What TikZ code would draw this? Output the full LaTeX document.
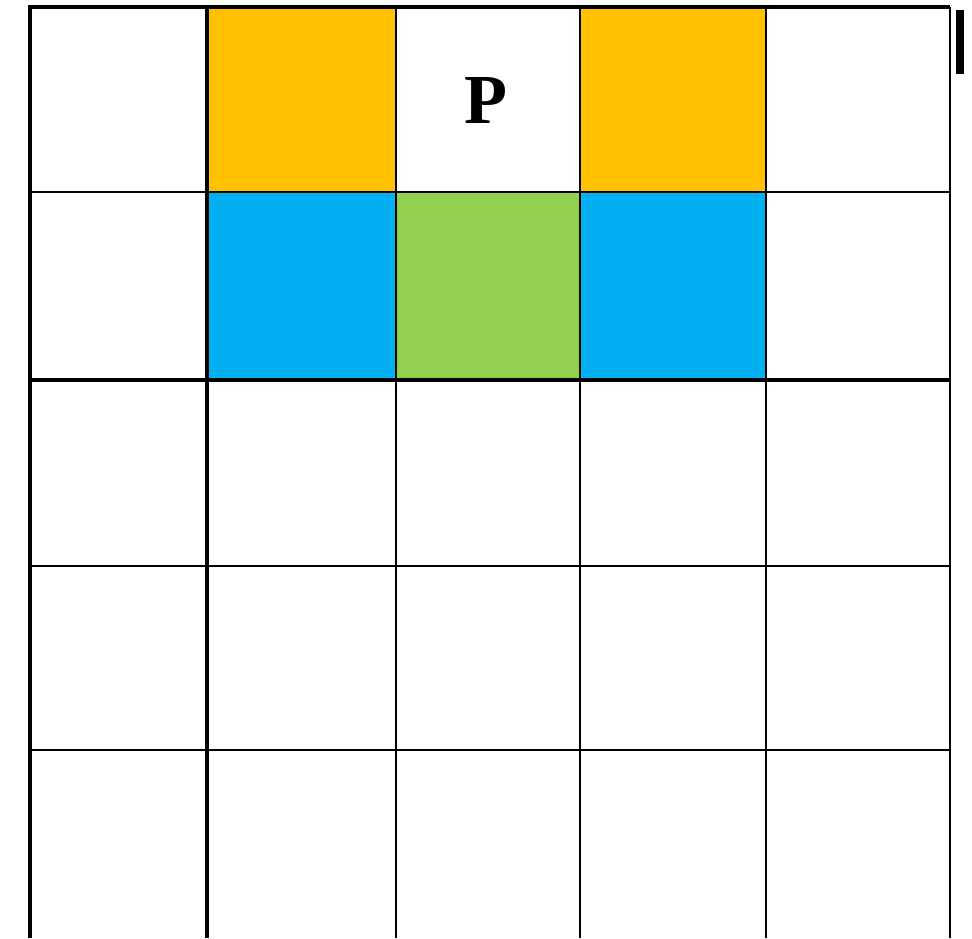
\documentclass[tikz,border=0pt]{standalone}
\usepackage{fontspec}
\setmainfont{Liberation Serif}
\definecolor{OrangeClr}{HTML}{FFC000}
\definecolor{BlueClr}{HTML}{00B0F0}
\definecolor{GreenClr}{HTML}{92D050}

\begin{document}
\begin{tikzpicture}[x=0.02cm,y=-0.02cm,
  thickline/.style={line width=2pt,color=black},
  thinline/.style={line width=1.1pt,color=black}]
\useasboundingbox (0,0) rectangle (972,938);

% coloured cells
\fill[OrangeClr] (207,7) rectangle (396,192);
\fill[OrangeClr] (580,7) rectangle (766,192);
\fill[BlueClr] (207,192) rectangle (396,380);
\fill[GreenClr] (396,192) rectangle (580,380);
\fill[BlueClr] (580,192) rectangle (766,380);

% horizontal lines
\draw[thinline] (30,192) -- (950,192);
\draw[thickline] (30,380) -- (950,380);
\draw[thinline] (30,566) -- (950,566);
\draw[thinline] (30,750) -- (950,750);

% vertical lines
\draw[thickline] (207,7) -- (207,938);
\draw[thickline,line width=1.6pt] (396,7) -- (396,938);
\draw[thickline,line width=1.6pt] (580,7) -- (580,938);
\draw[thinline] (766,7) -- (766,938);
\draw[thinline] (950,7) -- (950,938);

% outer frame
\draw[thickline,line width=2.3pt] (30,938) -- (30,7) -- (950,7);

\node[font=\fontsize{40}{40}\selectfont\bfseries] (p) at (486,100) {P};

\fill[black] (956,10) rectangle (964,74);
\end{tikzpicture}
\end{document}
